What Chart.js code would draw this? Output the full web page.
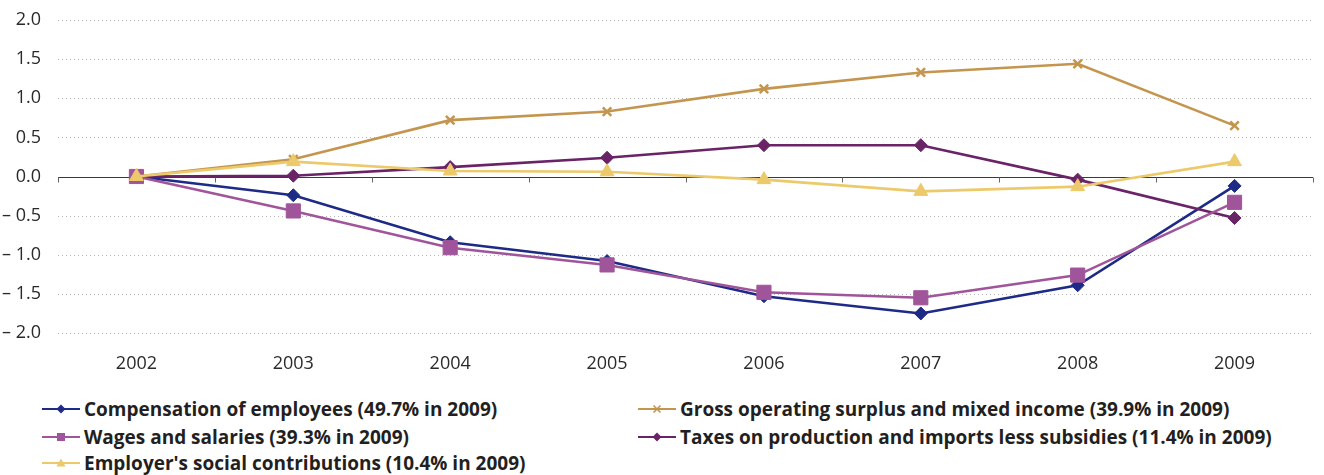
<!DOCTYPE html>
<html>
<head>
<meta charset="utf-8">
<script src="https://cdn.jsdelivr.net/npm/chart.js@4.4.1/dist/chart.umd.min.js"></script>
<style>
  html, body { margin: 0; padding: 0; background: #fff; }
  #wrap { position: relative; width: 1324px; height: 475px; }
  #chartBox { position: absolute; left: 0; top: 0; width: 1324px; height: 385px; }
  .legend { position: absolute; font-family: "Open Sans", "Liberation Sans", sans-serif; font-weight: 700;
            font-size: 19px; color: #231f20; white-space: nowrap; letter-spacing: 0px; }
  .item { position: absolute; display: flex; align-items: center; height: 24px; }
  .item svg { margin-right: 4px; }
</style>
</head>
<body>
<div id="wrap">
  <div id="chartBox"><canvas id="c"></canvas></div>
  <div class="legend" id="legend"></div>
</div>
<script>
// Years on the category axis
const years = ['2002', '2003', '2004', '2005', '2006', '2007', '2008', '2009'];

// Changes in income components, percentage points
const compensation = [0, -0.24, -0.84, -1.08, -1.53, -1.75, -1.39, -0.12];
const wages        = [0, -0.44, -0.91, -1.13, -1.48, -1.55, -1.26, -0.33];
const socialContr  = [0, 0.19, 0.07, 0.06, -0.04, -0.19, -0.13, 0.19];
const grossSurplus = [0, 0.22, 0.72, 0.83, 1.12, 1.33, 1.44, 0.65];
const taxes        = [0, 0.01, 0.12, 0.24, 0.40, 0.40, -0.04, -0.53];

// Value axis ticks
const yTicks = [-2, -1.5, -1, -0.5, 0, 0.5, 1, 1.5, 2];

// Series labels
const labels = {
  compensation: 'Compensation of employees (49.7% in 2009)',
  gross: 'Gross operating surplus and mixed income (39.9% in 2009)',
  wages: 'Wages and salaries (39.3% in 2009)',
  taxes: 'Taxes on production and imports less subsidies (11.4% in 2009)',
  social: "Employer's social contributions (10.4% in 2009)"
};

const C = {
  navy: '#1d2a86',
  wages: '#a0559b',
  yellow: '#ecc96a',
  tan: '#c4954e',
  plum: '#6a2367'
};

// Dotted grid, solid zero line with category tick marks
const gridPlugin = {
  id: 'zeroGrid',
  beforeDatasetsDraw(chart) {
    const { ctx, chartArea: a, scales: { x, y } } = chart;
    ctx.save();
    ctx.strokeStyle = '#b5b5b5';
    ctx.lineWidth = 1;
    ctx.setLineDash([1, 3]);
    yTicks.forEach(v => {
      if (v === 0) return;
      const py = Math.round(y.getPixelForValue(v)) + 0.5;
      ctx.beginPath();
      ctx.moveTo(a.left, py);
      ctx.lineTo(a.right, py);
      ctx.stroke();
    });
    ctx.setLineDash([]);
    const z = Math.round(y.getPixelForValue(0)) + 0.5;
    ctx.strokeStyle = '#3a3a3a';
    ctx.lineWidth = 1.2;
    ctx.beginPath();
    ctx.moveTo(a.left, z);
    ctx.lineTo(a.right, z);
    ctx.stroke();
    ctx.strokeStyle = '#666';
    ctx.lineWidth = 1;
    for (let i = 0; i <= years.length; i++) {
      const px = Math.round(x.getPixelForValue(i - 0.5)) + 0.5;
      ctx.beginPath();
      ctx.moveTo(px, z);
      ctx.lineTo(px, z + 5);
      ctx.stroke();
    }
    ctx.restore();
  }
};

function series(label, data, color, style, radius, order) {
  return {
    label, data, order,
    borderColor: color, backgroundColor: color,
    borderWidth: 2.6,
    pointStyle: style, pointRadius: radius, pointHoverRadius: radius,
    pointBorderColor: color, pointBackgroundColor: color,
    pointBorderWidth: style === 'crossRot' ? 2.5 : 1,
    tension: 0
  };
}

const tickFont = { family: '"Open Sans", sans-serif', size: 18 };

new Chart(document.getElementById('c'), {
  type: 'line',
  data: {
    labels: years,
    datasets: [
      series(labels.compensation, compensation, C.navy, 'rectRot', 6.5, 5),
      series(labels.gross, grossSurplus, C.tan, 'crossRot', 6, 4),
      series(labels.wages, wages, C.wages, 'rect', 10, 2),
      series(labels.taxes, taxes, C.plum, 'rectRot', 6.5, 3),
      series(labels.social, socialContr, C.yellow, 'triangle', 8, 1)
    ]
  },
  options: {
    responsive: true,
    maintainAspectRatio: false,
    animation: false,
    layout: { padding: { top: 20, right: 2, left: 0, bottom: 0 } },
    plugins: { legend: { display: false }, tooltip: { enabled: false } },
    scales: {
      x: {
        offset: true,
        grid: { display: false },
        border: { display: false },
        ticks: { color: '#2a2a2a', font: tickFont, padding: 12 },
        afterFit: s => { s.height = 52; }
      },
      y: {
        min: -2, max: 2,
        afterBuildTicks: s => { s.ticks = yTicks.map(v => ({ value: v })); },
        grid: { display: false },
        border: { display: false },
        ticks: {
          color: '#2a2a2a',
          font: tickFont,
          padding: 9,
          callback: v => (v < 0 ? '\u2013 ' + Math.abs(v).toFixed(1) : v.toFixed(1))
        },
        afterFit: s => { s.width = 58; }
      }
    }
  },
  plugins: [gridPlugin]
});

// Legend entries: line + marker glyph + text
function glyph(color, shape) {
  let m = '';
  if (shape === 'diamond') m = `<polygon points="19,1.5 23.5,6 19,10.5 14.5,6" fill="${color}"/>`;
  if (shape === 'square') m = `<rect x="15" y="2" width="8" height="8" fill="${color}"/>`;
  if (shape === 'triangle') m = `<polygon points="19,1.5 23.5,9.5 14.5,9.5" fill="${color}"/>`;
  if (shape === 'cross') m = `<path d="M15.5,2.5 L22.5,9.5 M22.5,2.5 L15.5,9.5" stroke="${color}" stroke-width="1.6"/>`;
  return `<svg width="38" height="12" viewBox="0 0 38 12"><line x1="0" y1="6" x2="38" y2="6" stroke="${color}" stroke-width="2"/>${m}</svg>`;
}
const items = [
  { text: labels.compensation, color: C.navy, shape: 'diamond', x: 42, y: 397 },
  { text: labels.gross, color: C.tan, shape: 'cross', x: 638, y: 397 },
  { text: labels.wages, color: C.wages, shape: 'square', x: 42, y: 425 },
  { text: labels.taxes, color: C.plum, shape: 'diamond', x: 638, y: 425 },
  { text: labels.social, color: C.yellow, shape: 'triangle', x: 42, y: 451 }
];
const leg = document.getElementById('legend');
items.forEach(it => {
  const d = document.createElement('div');
  d.className = 'item';
  d.style.left = it.x + 'px';
  d.style.top = it.y + 'px';
  d.innerHTML = glyph(it.color, it.shape) + '<span>' + it.text + '</span>';
  leg.appendChild(d);
});
</script>
</body>
</html>
